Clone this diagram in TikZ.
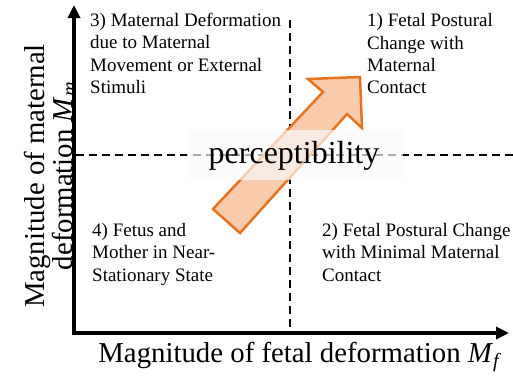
\documentclass[tikz,border=0pt]{standalone}
\usepackage{fontspec}
\setmainfont{Liberation Serif}
\usetikzlibrary{arrows.meta}
\definecolor{arrowfill}{HTML}{F8CBAD}
\definecolor{arrowline}{HTML}{E8731F}
\tikzset{
  axis/.style={line width=3.2pt, line join=miter, {Triangle[length=13pt,width=12pt]}-{Triangle[length=13pt,width=12pt]}},
  dashline/.style={line width=1.8pt, dash pattern=on 8pt off 5pt},
  quad/.style={anchor=base west, align=left, inner sep=0pt, font=\fontsize{19}{22.4}\selectfont},
  axlabel/.style={align=center, inner sep=0pt, font=\fontsize{28.8}{24}\selectfont},
  bigarrow/.style={fill=arrowfill, draw=arrowline, line width=2.5pt, line join=miter},
  band/.style={fill=white!98!black, opacity=0.68},
}
\begin{document}
\begin{tikzpicture}[x=1pt,y=-1pt]
\useasboundingbox (0,0) rectangle (513,376);
% axes
\coordinate (O) at (74,333);
\coordinate (Ytip) at (74,5);
\coordinate (Xtip) at (509,333);
\draw[axis] (Ytip) -- (O) -- (Xtip);
% dashed quadrant lines
\coordinate (vtop) at (290,20);
\coordinate (vbot) at (290,331);
\coordinate (hl) at (76,155);
\coordinate (hr) at (513,155);
\draw[dashline] (vtop) -- (vbot);
\draw[dashline] (hl) -- (hr);
% big arrow
\coordinate (a1) at (213,209);
\coordinate (a2) at (323,92);
\coordinate (a3) at (308,79);
\coordinate (a4) at (360,77);
\coordinate (a5) at (362,128);
\coordinate (a6) at (347,114);
\coordinate (a7) at (240,233);
\draw[bigarrow] (a1) -- (a2) -- (a3) -- (a4) -- (a5) -- (a6) -- (a7) -- cycle;
% band
\coordinate (b1) at (187,130);
\coordinate (b2) at (403,180);
\fill[band] (b1) rectangle (b2);
\node[inner sep=0pt, font=\fontsize{32}{36}\selectfont] (perc) at (294,155.5) {perceptibility};
% quadrant texts (anchored at the baseline of their last line)
\node[quad] (q3) at (90,93.4) {3) Maternal Deformation\\due to Maternal\\Movement or External\\Stimuli};
\node[quad] (q1) at (367,93.8) {1) Fetal Postural\\Change with\\Maternal\\Contact};
\node[quad] (q2) at (322,281) {2) Fetal Postural Change\\with Minimal Maternal\\Contact};
\node[quad] (q4) at (92,281) {4) Fetus and\\Mother in Near-\\Stationary State};
% axis labels
\node[axlabel, anchor=base] (xl) at (300,362) {Magnitude of fetal deformation \textit{M}\textsubscript{\textit{f}}};
\node[axlabel, rotate=90] (yl) at (50,176) {Magnitude of maternal\\deformation \textit{M}\textsubscript{\textit{m}}};
\end{tikzpicture}
\end{document}
